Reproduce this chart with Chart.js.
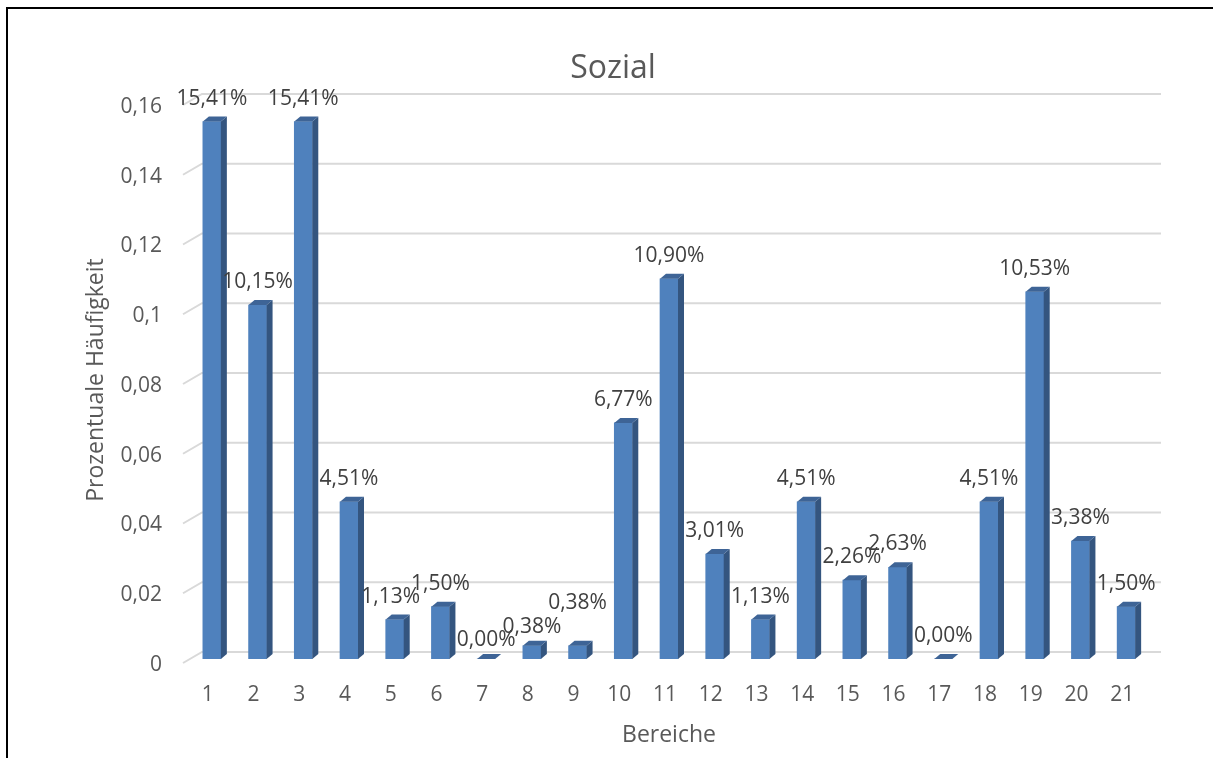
<!DOCTYPE html>
<html lang="de">
<head>
<meta charset="utf-8">
<title>Sozial</title>
<script src="https://cdn.jsdelivr.net/npm/chart.js@4.4.1/dist/chart.umd.min.js"></script>
<style>
  html, body { margin: 0; padding: 0; background: #fff; overflow: hidden; }
  canvas { display: block; }
</style>
</head>
<body>
<canvas id="sozial-chart" width="1213" height="758"></canvas>
<script>
  const chartTitle = 'Sozial';
  const bereiche = ['1', '2', '3', '4', '5', '6', '7', '8', '9', '10', '11',
    '12', '13', '14', '15', '16', '17', '18', '19', '20', '21'];
  const haeufigkeit = [0.1541, 0.1015, 0.1541, 0.0451, 0.0113, 0.0150, 0.0000,
    0.0038, 0.0038, 0.0677, 0.1090, 0.0301, 0.0113, 0.0451, 0.0226, 0.0263,
    0.0000, 0.0451, 0.1053, 0.0338, 0.0150];
  const yTickValues = [0, 0.02, 0.04, 0.06, 0.08, 0.1, 0.12, 0.14, 0.16];

  // small nudges for labels that sit on top of their neighbours: [dx, dy]
  const labelNudge = { 4: [-4, 0], 6: [0, 4], 7: [0, 4], 8: [0, -20] };

  const FRONT = '#4f81bd';
  const SIDE = '#34557f';
  const TOP = '#3e6496';
  const DX = 6, DY = 5;

  const fmtComma = (v, digits) => v.toFixed(digits).replace('.', ',');

  Chart.defaults.font.family = "'Open Sans', sans-serif";
  Chart.defaults.color = '#595959';

  // fake 3D: back-wall grid, side/top faces of the columns, value labels, title
  const bar3d = {
    id: 'bar3d',
    beforeDatasetsDraw(chart) {
      const { ctx, chartArea, scales: { y } } = chart;
      ctx.save();
      ctx.strokeStyle = '#d9d9d9';
      ctx.lineWidth = 2;
      yTickValues.forEach(v => {
        const py = y.getPixelForValue(v);
        ctx.beginPath();
        ctx.moveTo(chartArea.left - 6, py + 4);
        ctx.lineTo(chartArea.left + 13, py - 7);
        ctx.lineTo(chartArea.right + 12, py - 7);
        ctx.stroke();
      });
      ctx.restore();
    },
    afterDatasetsDraw(chart) {
      const { ctx } = chart;
      const meta = chart.getDatasetMeta(0);
      ctx.save();
      meta.data.forEach((bar, i) => {
        const { x, y, base, width } = bar.getProps(['x', 'y', 'base', 'width'], true);
        const l = x - width / 2, r = x + width / 2;

        ctx.fillStyle = SIDE;
        ctx.beginPath();
        ctx.moveTo(r, y);
        ctx.lineTo(r + DX, y - DY);
        ctx.lineTo(r + DX, base - DY);
        ctx.lineTo(r, base);
        ctx.closePath();
        ctx.fill();

        ctx.fillStyle = TOP;
        ctx.beginPath();
        ctx.moveTo(l, y);
        ctx.lineTo(l + DX, y - DY);
        ctx.lineTo(r + DX, y - DY);
        ctx.lineTo(r, y);
        ctx.closePath();
        ctx.fill();
      });

      ctx.font = "21px 'Open Sans', sans-serif";
      ctx.fillStyle = '#404040';
      ctx.textAlign = 'center';
      ctx.textBaseline = 'middle';
      meta.data.forEach((bar, i) => {
        const [nx, ny] = labelNudge[i] || [0, 0];
        const text = fmtComma(haeufigkeit[i] * 100, 2) + '%';
        ctx.fillText(text, bar.x + nx, bar.y - 23 + ny);
      });
      ctx.restore();
    },
    afterDraw(chart) {
      const { ctx } = chart;
      ctx.save();
      ctx.font = "32px 'Open Sans', sans-serif";
      ctx.fillStyle = '#595959';
      ctx.textAlign = 'center';
      ctx.textBaseline = 'alphabetic';
      ctx.fillText(chartTitle, 613, 78);

      // frame
      ctx.strokeStyle = '#000';
      ctx.lineWidth = 2;
      ctx.beginPath();
      ctx.moveTo(7, 760);
      ctx.lineTo(7, 8);
      ctx.lineTo(1215, 8);
      ctx.stroke();
      ctx.restore();
    }
  };

  const ctx = document.getElementById('sozial-chart').getContext('2d');

  const sozialChart = new Chart(ctx, {
    type: 'bar',
    data: {
      labels: bereiche,
      datasets: [
        {
          label: 'Sozial',
          data: haeufigkeit,
          backgroundColor: FRONT,
          borderWidth: 0,
          barThickness: 18,
        },
      ],
    },
    options: {
      responsive: false,
      animation: false,
      layout: {
        padding: { top: 101, right: 64, bottom: 0, left: 8 },
      },
      plugins: {
        legend: { display: false },
        title: { display: false },
        tooltip: { enabled: false },
      },
      scales: {
        x: {
          grid: { display: false, drawTicks: false },
          border: { display: false },
          ticks: {
            padding: 23,
            labelOffset: -4,
            font: { size: 21 },
            color: '#595959',
            maxRotation: 0,
          },
          title: {
            display: true,
            text: 'Bereiche',
            font: { size: 23 },
            color: '#595959',
            padding: { top: 0, bottom: 9 },
          },
          afterFit(scale) {
            scale.height = 99;
          },
        },
        y: {
          min: 0,
          max: 0.16,
          grid: { display: false, drawTicks: false },
          border: { display: false },
          afterBuildTicks(scale) {
            scale.ticks = yTickValues.map(v => ({ value: v }));
          },
          ticks: {
            padding: 27,
            labelOffset: 6,
            font: { size: 21 },
            color: '#595959',
            callback: v => String(+v.toFixed(2)).replace('.', ','),
          },
          title: {
            display: true,
            text: 'Prozentuale Häufigkeit',
            font: { size: 23 },
            color: '#595959',
            padding: { top: 75, bottom: 0 },
          },
          afterFit(scale) {
            scale.width = 181;
          },
        },
      },
    },
    plugins: [bar3d],
  });
</script>
</body>
</html>
